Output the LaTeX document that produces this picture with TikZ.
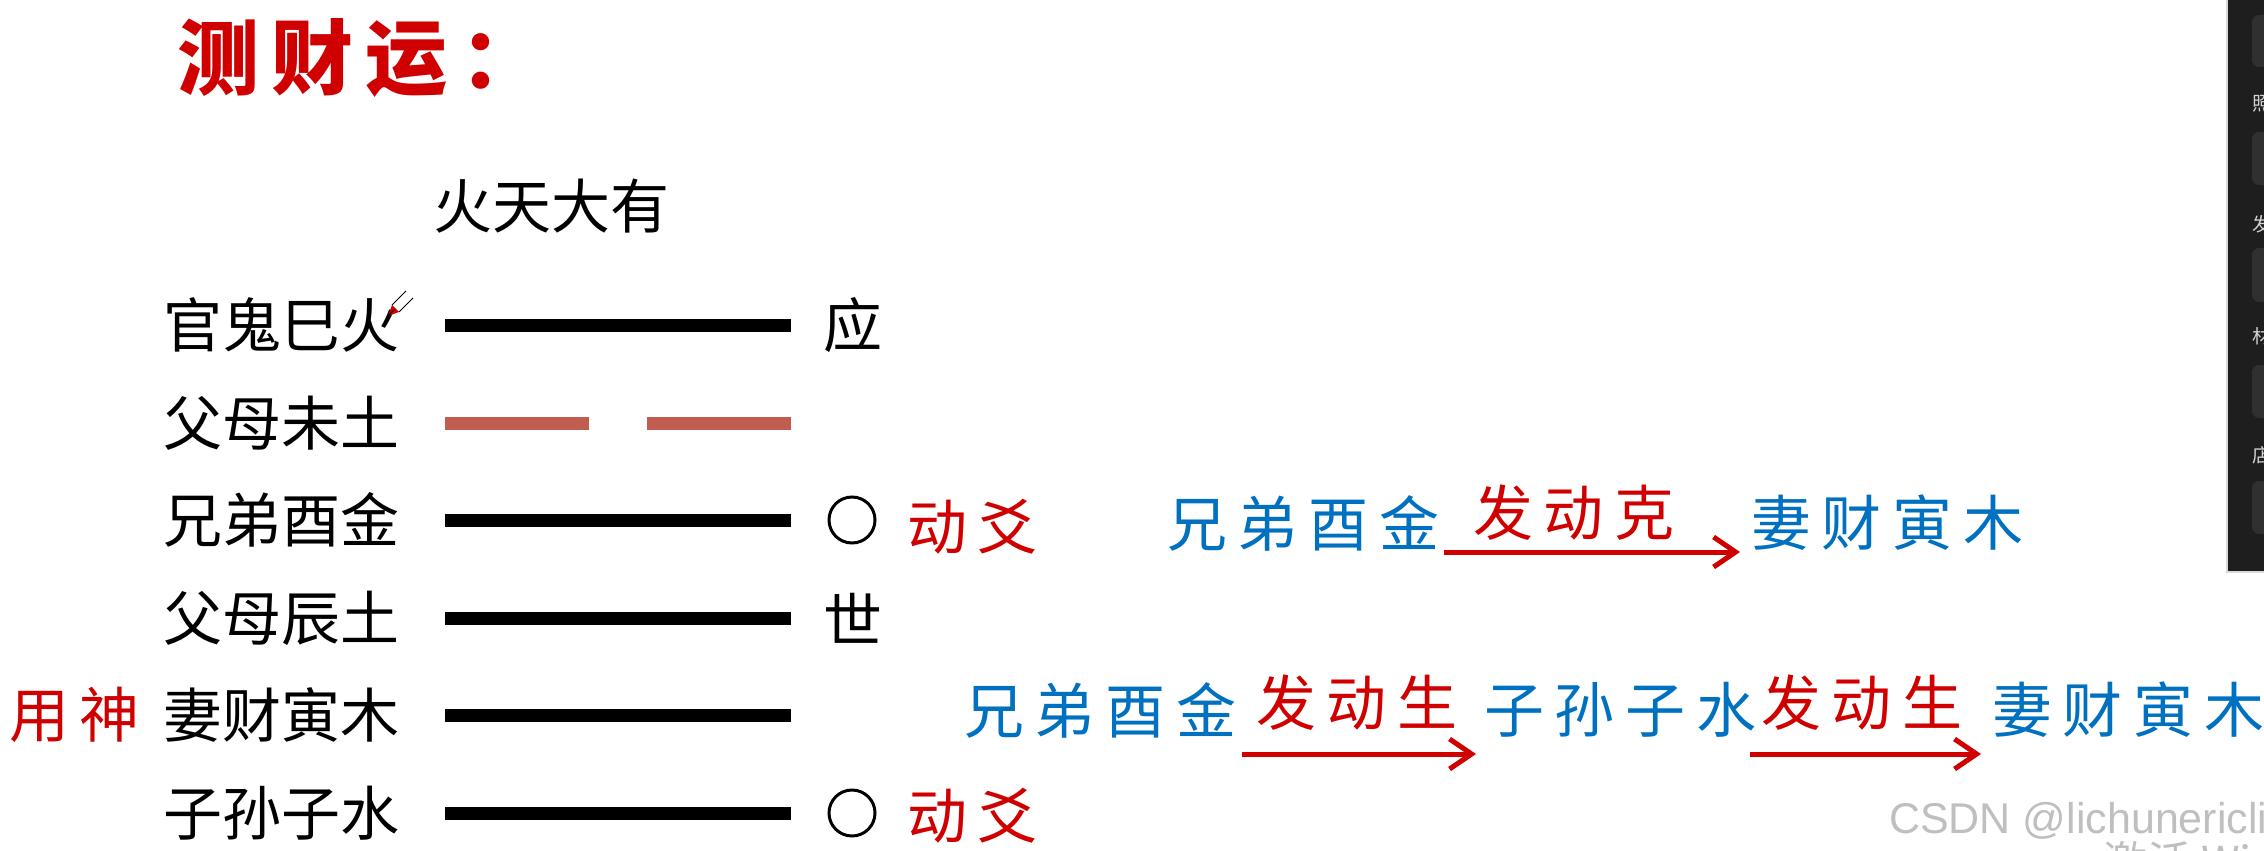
\documentclass[tikz,border=0pt]{standalone}
\usepackage{fontspec}
\usetikzlibrary{arrows.meta}
\newfontfamily\cjk{Noto Sans CJK SC}
\newfontfamily\cjkwide[LetterSpace=18]{Noto Sans CJK SC}
\newfontfamily\cjktitle[LetterSpace=15]{Noto Sans CJK SC}
\newfontfamily\wmfont{Liberation Sans}
\definecolor{guared}{RGB}{208,0,0}
\definecolor{guablue}{RGB}{0,112,192}
\definecolor{yinred}{RGB}{192,92,80}
\definecolor{panelbg}{RGB}{30,30,30}
\definecolor{panelbox}{RGB}{48,48,48}

\begin{document}
\begin{tikzpicture}[x=1pt,y=-1pt,
  every node/.style={inner sep=0pt, anchor=west, font=\cjk\fontsize{59}{62}\selectfont},
  wide/.style={font=\cjkwide\fontsize{60}{62}\selectfont},
  gua/.style={wide, text=guablue},
  act/.style={wide, text=guared},
  yang/.style={line width=13pt},
  yin/.style={line width=13pt, yinred},
  dong/.style={circle, draw, line width=3pt, minimum size=46pt, anchor=center},
  arr/.style={guared, line width=5pt, -{Straight Barb[length=22pt,width=30pt]}}]
  \useasboundingbox (0,0) rectangle (2264,851);
  \clip (0,0) rectangle (2264,851);

  % title and name of the hexagram
  \node[text=guared, font=\cjktitle\bfseries\fontsize{82}{86}\selectfont] (title) at (177,58) {测财运：};
  \node (name) at (433,206) {火天大有};

  % the six lines, top to bottom
  \node (l1) at (163,325) {官鬼巳火};
  \node (l2) at (163,423) {父母未土};
  \node (l3) at (163,520) {兄弟酉金};
  \node (l4) at (163,618) {父母辰土};
  \node (l5) at (163,715) {妻财寅木};
  \node (l6) at (163,813) {子孙子水};
  \node[act] (yong) at (9,715) {用神};

  \draw[yang] (445,325) -- (791,325);
  \draw[yin] (445,423) -- (589,423);
  \draw[yin] (647,423) -- (791,423);
  \draw[yang] (445,520) -- (791,520);
  \draw[yang] (445,618) -- (791,618);
  \draw[yang] (445,715) -- (791,715);
  \draw[yang] (445,813) -- (791,813);

  \node[anchor=center] (ying) at (853,325) {应};
  \node[anchor=center] (shi) at (853,618) {世};
  \node[dong] (o3) at (852,520) {};
  \node[dong] (o6) at (852,813) {};
  \node[act] (d3) at (907,527) {动爻};
  \node[act] (d6) at (907,816) {动爻};

  % pen mark
  \fill[guared] (388,316) -- (392,305) -- (399,312) -- cycle;
  \draw[line width=1pt] (392,305) -- (406,291);
  \draw[line width=1pt] (399,312) -- (413,298);
  \draw[line width=1pt] (388,316) -- (395,309);

  % moving line ke
  \node[gua] (xd1) at (1167,523) {兄弟酉金};
  \node[act] (ke) at (1473,513) {发动克};
  \node[gua] (qc1) at (1751,523) {妻财寅木};
  \coordinate (k1) at (1444,552);
  \coordinate (k2) at (1740,552);
  \draw[arr] (k1) -- (k2);

  % moving lines sheng
  \node[gua] (xd2) at (964,710) {兄弟酉金};
  \node[act] (sh1) at (1256,703) {发动生};
  \node[gua] (zs) at (1484,710) {子孙子水};
  \node[act] (sh2) at (1761,703) {发动生};
  \node[gua] (qc2) at (1992,710) {妻财寅木};
  \coordinate (s1) at (1242,754);
  \coordinate (s2) at (1476,754);
  \coordinate (s3) at (1750,754);
  \coordinate (s4) at (1981,754);
  \draw[arr] (s1) -- (s2);
  \draw[arr] (s3) -- (s4);

  % side panel of the screen
  \fill[panelbg] (2228,0) rectangle (2264,571);
  \draw[gray!30, line width=2pt] (2227,0) -- (2227,572) -- (2264,572);
  \fill[panelbox, rounded corners=7pt] (2252,15) rectangle (2290,67);
  \fill[panelbox, rounded corners=7pt] (2252,132) rectangle (2290,185);
  \fill[panelbox, rounded corners=7pt] (2252,248) rectangle (2290,302);
  \fill[panelbox, rounded corners=7pt] (2252,365) rectangle (2290,418);
  \fill[panelbox, rounded corners=7pt] (2252,481) rectangle (2290,534);
  \node[text=gray!35, font=\cjk\fontsize{19}{20}\selectfont] (p1) at (2252,104) {照};
  \node[text=gray!35, font=\cjk\fontsize{19}{20}\selectfont] (p2) at (2252,224) {发};
  \node[text=gray!35, font=\cjk\fontsize{19}{20}\selectfont] (p3) at (2252,336) {材};
  \node[text=gray!35, font=\cjk\fontsize{19}{20}\selectfont] (p4) at (2252,455) {店};

  % watermark
  \node[anchor=base west, text=gray!50, font=\wmfont\fontsize{43}{45}\selectfont] (wm) at (1889,833) {CSDN @lichunericli};
  \node[anchor=base west, text=gray!50, font=\cjk\fontsize{44}{46}\selectfont] (act) at (2103,878) {激活 Windows};
\end{tikzpicture}
\end{document}
